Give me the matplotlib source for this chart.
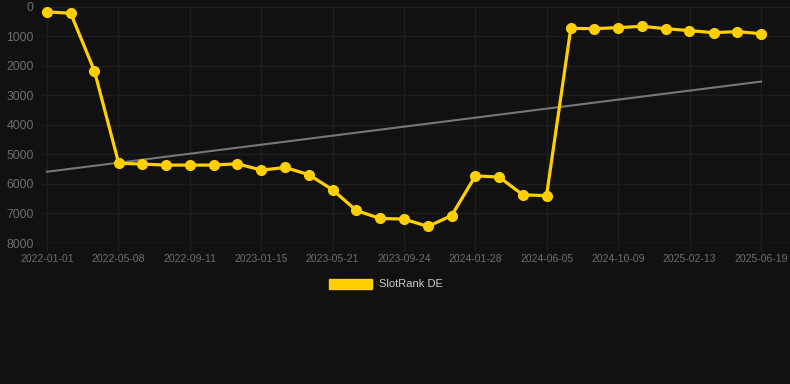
import matplotlib
matplotlib.use("Agg")
import matplotlib.pyplot as plt
import matplotlib.dates as mdates
from matplotlib.patches import Patch
import numpy as np
import datetime as dt

plt.rcParams['font.family'] = ['Liberation Sans', 'DejaVu Sans']

dates = ["2022-01-01", "2022-02-12", "2022-03-26", "2022-05-08", "2022-06-19",
         "2022-07-31", "2022-09-11", "2022-10-23", "2022-12-04", "2023-01-16",
         "2023-02-27", "2023-04-10", "2023-05-22", "2023-07-03", "2023-08-14",
         "2023-09-25", "2023-11-07", "2023-12-19", "2024-01-30", "2024-03-12",
         "2024-04-23", "2024-06-04", "2024-07-17", "2024-08-28", "2024-10-09",
         "2024-11-20", "2025-01-01", "2025-02-12", "2025-03-27", "2025-05-08",
         "2025-06-19"]
ranks = [180, 230, 2180, 5300, 5330, 5365, 5365, 5365, 5320, 5535,
         5445, 5690, 6200, 6900, 7170, 7190, 7440, 7070, 5730, 5770,
         6370, 6400, 740, 750, 715, 670, 750, 815, 885, 850, 920]
trend_dates = ["2022-01-01", "2025-06-19"]
trend_values = [5590, 2540]
tick_labels = ["2022-01-01", "2022-05-08", "2022-09-11", "2023-01-15", "2023-05-21",
               "2023-09-24", "2024-01-28", "2024-06-05", "2024-10-09", "2025-02-13",
               "2025-06-19"]
y_ticks = [0, 1000, 2000, 3000, 4000, 5000, 6000, 7000, 8000]
series_name = "SlotRank DE"

bg = "#111111"
yellow = "#FFD000"

x = [dt.datetime.strptime(d, "%Y-%m-%d") for d in dates]
xt = [dt.datetime.strptime(d, "%Y-%m-%d") for d in trend_dates]

fig = plt.figure(figsize=(7.9, 3.84), dpi=100, facecolor=bg)
W, H = 790, 384
left_px, right_px, top_px, bot_px = 42, 790, 6.5, 243
ax = fig.add_axes([left_px / W, 1 - bot_px / H, (right_px - left_px) / W, (bot_px - top_px) / H])
ax.set_facecolor(bg)

ax.plot(xt, trend_values, color="#777777", lw=1.5, zorder=2)
ax.plot(x, ranks, color=yellow, lw=2.3, marker="o", markersize=7,
        markerfacecolor=yellow, markeredgecolor=yellow, zorder=3, clip_on=False)

# x limits: first point at px 47, last at px 761
start = mdates.date2num(x[0])
end = mdates.date2num(x[-1])
ppd = (761 - 47) / (end - start)
ax.set_xlim(start - (47 - left_px) / ppd, end + (right_px - 761) / ppd)
ax.set_ylim(8000, 0)

tick_pos = np.linspace(start, end, len(tick_labels))
ax.set_xticks(tick_pos)
ax.set_xticklabels(tick_labels)
ax.set_yticks(y_ticks)
ax.set_yticklabels([str(v) for v in y_ticks])

ax.tick_params(axis='x', colors="#666666", labelsize=7.5, length=6, width=1, pad=2,
               color="#1e1e1e")
ax.tick_params(axis='y', colors="#666666", labelsize=8.8, length=0, pad=6)
for lab in ax.get_xticklabels() + ax.get_yticklabels():
    lab.set_color("#6e6e6e")

ax.grid(True, color="#1e1e1e", lw=1)
ax.set_axisbelow(True)
for s in ax.spines.values():
    s.set_visible(False)
ax.axhline(8000, color="#2a2a2a", lw=1, zorder=1)

handle = Patch(facecolor=yellow, edgecolor=yellow)
fig.legend([handle], [series_name], loc="center", bbox_to_anchor=(386 / W, 1 - 284 / H),
           frameon=False, fontsize=8.0, labelcolor="#cccccc", handlelength=3.9,
           handleheight=1.05, handletextpad=0.6)

fig.savefig("out.png", dpi=100, facecolor=bg)
